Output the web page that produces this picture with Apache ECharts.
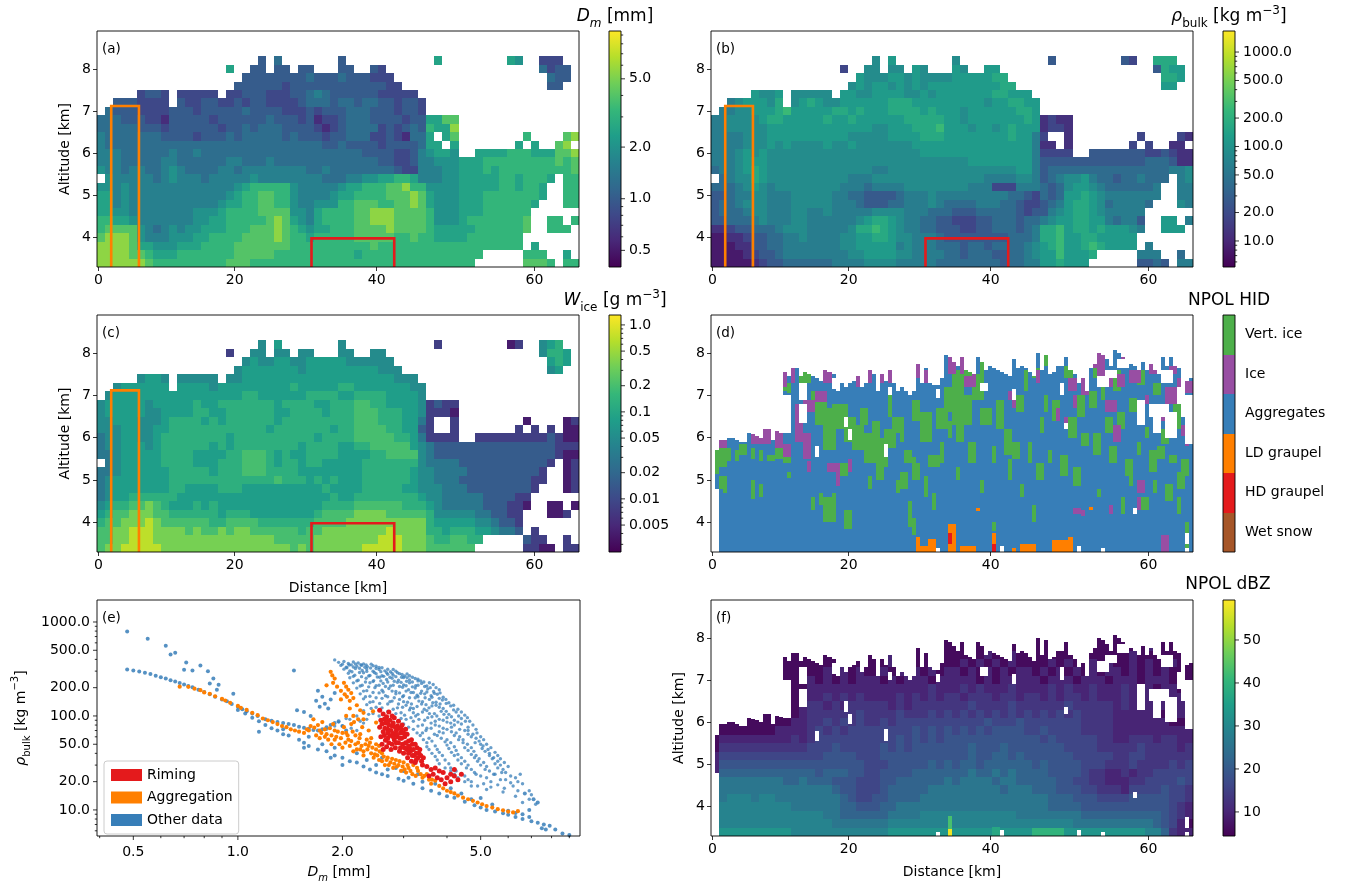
<!DOCTYPE html>
<html>
<head>
<meta charset="utf-8">
<script src="https://cdn.jsdelivr.net/npm/echarts@6/dist/echarts.min.js"></script>
<style>html,body{margin:0;background:#fff}#main{width:1349px;height:884px}</style>
</head>
<body>
<div id="main"></div>
<script>
// radar grid: 60 columns, 28 rows of 0.2 km from 8.9 km down. digit = index in the levels list, . = no data
var dmLevels = [0.6, 0.8, 1.0, 1.25, 1.6, 2.0, 2.5, 3.2, 4.0, 5.5];
var rhoLevels = [8, 12, 18, 27, 40, 60, 85, 120, 170, 260];
var iceLevels = [0.004, 0.008, 0.015, 0.03, 0.05, 0.08, 0.13, 0.2, 0.35, 0.7];
var dbzLevels = [6, 10, 13, 16, 19, 22, 26, 29, 33, 40];

var dmRows = [
'', '', '',
'.......... .......... 2.3....... 2......... ..6....... .65..111..',
'.......... ......6..2 2.22.22... 22..21.... .......... .....3122.',
'.......... ........22 2222223222 3222111... .......... ......322.',
'.......... .......222 2221222222 22222211.. .......... ......22..',
'.....1221. 11111.1122 2111223432 2222211111 .......... ..........',
'..2221111. 2112211212 2111123332 3323322122 1......... ..........',
'.322211112 2212222232 2221112122 2333222122 1......... ..........',
'3332221102 2222122222 2322212011 2333222212 26688..... ..........',
'3333322212 2222212232 3332222101 2333312123 27669..... ..........',
'4333333322 2212223233 3332322212 2333112103 36.68..... ...7....89',
'4333333333 3333333333 3333333322 3222212222 366.6..... ..6.6..89.',
'4443333334 3343333333 3333333333 3332222112 45665..666 6777666889',
'4443333344 3333334433 3433333333 3333322112 4455566677 7777777878',
'5443443345 4333344344 4444443343 3333333211 4445566676 7777777778',
'.544444345 4443444445 4444444433 3445566776 4445566666 7767776.77',
'5545444444 4444444567 7777544444 5667778897 7555566666 776776..77',
'6645444444 4444445677 8877544445 6677778889 8655566677 777776..77',
'6645444444 4444456677 8877544555 7788877889 8655566677 77776...77',
'6655444444 4455567777 8888554677 7788999888 8755566677 7777......',
'7766544444 4455667777 7898654677 7788999888 8755567777 7778..77.7',
'7888854345 4556667778 8898765667 7788889888 8766666777 7778..777.',
'8999854445 5566777788 8898776777 7788888778 7766667777 777.......',
'9999866555 6667777888 8888777777 7777877777 7777777777 777.6.....',
'9999887666 7777777888 8877777777 7767777777 77777777.. ...777..6.',
'9999998777 7777778887 7777777777 7777777777 7777777... ...8887.77'
];
var rhoRows = [
'', '', '',
'.......... .......... 6.7....... 6......... ..3....... .32..888..',
'.......... ......2..6 6.66.76... 76..77.... .......... .....3877.',
'.......... ........76 6677676666 7777788... .......... ......887.',
'.......... .......676 7767676777 77777788.. .......... ......77..',
'.....7667. 66666.7766 7777667677 7777788777 .......... ..........',
'..5677768. 6787667777 7788877777 7777677887 7......... ..........',
'.556677789 7777788787 7788887877 7677777788 7......... ..........',
'5566667887 7777877877 7777888887 7677777778 71211..... ..........',
'5566666777 7777777777 6677788897 7767767877 71221..... ..........',
'5555666777 7777777666 6677778887 7777777877 52..1..... ...2....21',
'5555666767 6666766766 6666677777 7777777777 511.1..... ..2.2..11.',
'5556767666 6666666666 6666667777 7777777777 52222..333 3333223211',
'5556777666 6666666666 6666666666 6677777777 5333333333 3333444311',
'4556787666 6666666666 5566666666 6666666677 5344444444 4444444556',
'.456687666 6666666555 6666666666 6666555566 5345667544 3445444.56',
'4445676566 6666665554 5555666666 6655522255 5434677654 444445..55',
'3345566555 6666655443 3334555655 5555555443 2434778765 555555..55',
'3445666555 6666655543 3344555654 4445554432 2345788764 55554...65',
'3444566555 6655655555 6666555444 3334444432 3356788765 5555......',
'3344456555 6655555567 8876554433 2223344434 4567788775 4553..77.5',
'1123344456 6655555688 9876554433 3223344434 5889788787 7765..777.',
'0011233445 5655556677 8876655543 3333333444 5889778877 777.......',
'0001133445 5555556677 7775655544 4344344445 6789778987 777.5.....',
'0000123345 5555555667 7776655554 4344433445 67797778.. ...555..4.',
'0000012334 4444455556 6665555544 4444443445 5778777... ...3343.55'
];
var iceRows = [
'', '', '',
'.......... .......... 4.5....... 4......... ..1....... .01..456..',
'.......... ......1..4 4.44.44... 44..44.... .......... .....4665.',
'.......... ........45 4455445555 5444444... .......... ......565.',
'.......... .......455 5555545555 55555444.. .......... ......45..',
'.....4554. 44444.4455 5555555555 5555555444 .......... ..........',
'..4555555. 5555455555 5555655555 6655555554 4......... ..........',
'.455555555 5555555566 5555556666 5566665555 4......... ..........',
'4555554555 5565566666 6656666556 6677665555 41211..... ..........',
'4555554455 5566556666 6655666656 6677766655 41110..... ..........',
'4455544456 6665656666 6656666666 6677766655 31..1..... ...0....01',
'4445544556 6666666666 6566666665 6677776655 21..1..... ..1.1.1.00',
'3445544566 6666665666 6666666566 6677777665 31111..111 1111112100',
'3445554566 6666565666 6666656666 5566777775 4322222222 2222222111',
'3345555566 6655556677 7656556666 5555667777 4322222222 2222222100',
'.345555566 6655566677 7656656655 5556666666 4333322222 2222221.01',
'3345555556 6666566677 7666655555 5556666665 4433332222 222221..01',
'3455555556 6666666666 6676665656 5556666665 4433322222 222211..01',
'3455555556 6555566655 5555555565 5556666655 4443332222 22221...01',
'3455666666 5555555555 5555555556 5566666666 5443333322 2211......',
'4566778765 5565655555 5555555566 6677777766 6543333322 2110..00.0',
'5677888776 6666656665 5555555677 7788887777 7644444332 211...001.',
'6778889877 7777667777 6666666777 7888888888 8655555443 221.......',
'7788999888 8787787887 7777767788 8888889888 8665666554 332.1.....',
'7788999888 8888888888 8877777888 8888899988 87667766.. ...211..1.',
'7889999988 8888888888 8888787888 8889999988 8777777... ...1100.11'
];
var dbzRows = [
'', '', '', '',
'0000000000 0000000000 0000000000 0000000000 0000000000 0000000000',
'0000000000 0000000000 0000000000 0000100000 0010000000 0000100000',
'0000000000 0000000000 0010000100 0000100100 0000010000 0010000000',
'0000000000 0000000000 0010100100 0101010100 0010100101 0010100100',
'0000000000 0000101010 0101010101 1010101011 0101010101 1010101000',
'0000000000 0010101011 1010111011 1110101111 1011101110 1110111010',
'0000000000 0011111111 1111111211 1212111211 1121211211 1211101100',
'0000000000 0111212121 1112121212 2122212212 2121221211 1211110110',
'0000000000 0122121222 2212122222 2232222322 2222322222 1211101010',
'0000000000 0122222232 2223222323 2323232323 2323232222 1111110110',
'0000000000 1122323232 2323333333 3333433343 3333332222 1111111000',
'0000000011 1123232333 3333343434 3434344443 3433332222 1111111111',
'0111111111 2123333333 3334343434 4444444444 4343333322 1122212211',
'0222222222 2233343333 3434344444 4454445444 4444333322 2223222212',
'1333333333 3333444433 3444444444 4454455454 4444433333 2233222222',
'1444444444 4444444443 3344444545 4554555555 4544443332 2232222323',
'1555555555 5554555443 3444455555 5565565655 5544443221 1212233333',
'2666666665 5655544433 3445555556 5666656655 5554433221 1122333343',
'3666666666 6666654433 3455555666 6666665666 5554443322 2133334332',
'3677767766 6666665433 4455556666 6666666666 6655544433 3344444332',
'3777777777 6666665544 4556666666 6666666666 6655554444 4444444321',
'3777777777 7777665555 5566667777 7777777766 6666665555 5555554321',
'3777777777 7777766666 6677777777 7777777777 7777766666 6666654310',
'3888888888 7777777777 7788888888 8888888888 9999888888 8888775211'
];
// single bright gates in the dBZ panel: half column from, half column to, km from, km to, dBZ
var dbzSpikes = [[59, 59, 3.3, 3.47, 58], [59, 59, 3.47, 3.78, 43], [70, 71, 3.3, 3.52, 37]];

// NPOL data, 120 half columns: top of echo in km, classes as [col from, col to, km from, km to]
var npolTop = [
3.3,5.7,5.95,5.95,6,6,5.95,5.9,5.9,6.1,6.08,6.05,6,6.2,6.2,5.95,6.15,6.12,7.55,7.45,
7.65,7.65,7.45,7.55,7.5,7.45,7.4,7.35,7.6,7.55,7.5,7.1,7.3,7.2,7.3,7.35,7.45,7.2,7.3,7.6,
7.5,7.1,7.5,7.35,7.6,7.3,7.1,7.2,7.1,7,7.1,7.75,7.3,7.65,7.3,7.25,7.25,7.4,7.95,7.9,
7.8,7.7,7.9,7.6,7.55,7.5,7.9,7.8,7.6,7.7,7.65,7.6,7.55,7.5,7.45,7.85,7.65,7.7,7.65,7.55,
7.45,8,7.6,7.95,7.5,7.55,7.7,7.7,7.9,7.6,7.5,7.3,7.4,7.1,7.65,7.75,8,7.95,7.85,7.7,
8.07,8,7.9,7.7,7.75,7.7,7.6,7.8,7.6,7.75,7.6,7.5,7.9,7.7,7.9,7.7,7.65,6.5,7.35,7.4
];
var vertIce = [[1,1,5.15,5.7],[2,3,5.3,5.85],[4,4,5.45,5.75],[6,6,5.45,5.7],[7,8,5.6,5.85],[10,10,5.5,5.75],[12,12,5.45,5.7],[14,15,5.45,5.6],[16,17,5.5,5.75],[18,19,5.4,5.7],[19,19,7.05,7.3],[18,18,7.1,7.2],
[2,2,4.8,5.1],[3,3,4.7,5.1],[10,10,4.55,5],[12,12,4.6,4.9],[19,19,5.05,5.2],[22,24,7.3,7.6],[25,25,6.9,7.1],[26,28,6.3,6.95],[28,30,5.7,6.7],[30,33,6.2,6.8],[31,33,5.1,5.4],[33,35,5.9,6.5],[35,37,5.7,6.3],[37,38,6.3,6.7],[38,40,5.4,6.1],[40,41,5.6,6.4],[41,42,5,6],[42,43,5.3,5.7],[43,45,5.75,6.2],[45,46,6.1,6.5],[44,44,6.5,7],[47,47,5.9,6.5],[48,49,5.4,5.7],[50,50,5.2,5.55],[50,51,5,5.4],[50,51,6.4,6.9],[52,54,5.9,6.6],[54,56,5.3,5.6],[56,58,6.2,6.7],[57,57,5.4,5.9],[58,60,6.6,7.2],[59,59,6,6.4],[60,62,6.3,7.6],[61,62,5.9,6.5],[61,61,5,5.3],[63,64,6.3,7],[62,64,7.2,7.85],[64,65,5.4,5.9],[65,67,6.9,7.5],[67,69,6.3,6.7],[67,67,7.4,7.8],[70,70,5.4,5.8],[71,72,6.2,6.9],[73,74,5.6,6.2],[74,74,5,5.5],[75,76,5.5,5.9],[76,77,6.6,7],[78,78,7.1,7.6],[77,77,4.6,4.9],[79,79,5.4,5.9],[80,81,7.4,7.65],[81,82,5,5.4],[82,82,6.1,6.5],[83,83,6.6,7],[84,84,5.4,5.7],[82,83,7.7,7.95],[85,86,6.4,6.9],[87,88,5.1,5.6],[88,89,7.4,7.7],[89,90,6,6.5],[90,91,4.85,5.3],[91,92,6.5,7],[92,93,5.8,6.1],[94,95,6.7,7.1],[95,95,7.4,7.65],[95,96,5.6,6.1],[97,97,6.9,7.3],[98,99,6.1,6.5],[99,100,5.4,5.8],[100,101,7.1,7.6],[101,102,6.2,6.6],[102,102,4.2,4.6],[103,104,5.1,5.5],[104,105,6.6,6.95],[106,107,7.25,7.6],[106,106,5.6,5.9],[108,108,6,6.25],[107,108,4.3,4.6],[109,110,5.2,5.7],[110,111,7,7.3],[111,112,5.5,5.8],[112,113,5.85,6.2],[113,114,4.5,4.9],[114,115,5.4,5.6],[115,116,6.2,6.8],[116,117,4.8,5.2],[117,118,5.1,5.5],[118,118,3.3,4],[118,118,6.5,6.9],[116,116,4.2,4.6],[110,110,4.7,5],[104,104,4.85,5.1],[96,96,4.6,4.8],[49,49,3.9,4.5],[46,46,4.7,5],[50,50,3.7,4.1],[39,39,4.8,5.1],[47,48,4.8,5.2],[53,53,4.6,5.1],[55,55,4.3,4.7],[80,80,4,4.4],[67,67,4.7,5],[70,70,3.8,4],
[25,25,4.3,4.6],[27,27,4.4,4.7],[28,30,4,4.6],[30,30,4.25,4.7],[33,34,3.85,4.3]];
var iceClass = [[2,3,5.75,5.95],[10,12,5.85,6.1],[13,14,5.85,6.2],[16,17,5.75,6.15],[18,19,5.55,5.85],[18,18,7.2,7.55],[20,20,7.3,7.65],[21,22,5.9,6.8],[23,24,5.5,6.1],[24,24,6.6,6.8],[26,28,6.85,7.1],[23,25,6.6,6.9],[24,24,5.2,5.45],[28,29,7.3,7.6],[31,31,4.85,5.4],[34,34,5.2,5.5],[29,31,5.2,5.4],[36,36,7.2,7.45],[39,39,7.3,7.6],[44,44,7.3,7.6],[42,42,7.3,7.5],[51,51,7.4,7.75],[53,53,7.3,7.6],[59,60,7.5,7.9],[62,62,7.5,7.9],[65,65,7.2,7.5],[63,64,7.2,7.45],[75,75,6.7,6.95],[74,74,6.9,7.1],[81,81,7.3,7.6],[86,86,6.4,6.7],[90,90,6.7,7],[89,90,7.1,7.4],[88,88,6.3,6.5],[92,93,7,7.4],[95,95,7.65,7.8],[96,97,7.6,8],[96,99,7.2,7.6],[98,100,6.6,6.9],[100,101,5.9,6.3],[101,102,7.2,7.5],[102,103,7.8,8],[104,106,7.3,7.6],[108,108,6.8,7],[109,111,7.5,7.75],[112,113,6.4,6.7],[113,115,6.8,7.2],[114,115,7.5,7.7],[116,117,7.1,7.4],[117,119,7.05,7.35],[117,118,6.05,6.3],[118,118,5.8,6],[106,107,4.7,5],[90,91,4.2,4.35],[92,92,4.15,4.3],[106,106,4.3,4.6],[112,113,3.3,3.7],[99,99,4.2,4.4]];
var ldGraupel = [[51,51,3.3,3.65],[52,52,3.3,3.45],[53,54,3.3,3.45],[54,55,3.3,3.6],[59,60,3.3,3.95],[64,65,3.3,3.45],[70,70,3.3,3.75],[75,75,3.3,3.4],[77,79,3.3,3.5],[79,80,3.3,3.5],[85,89,3.3,3.58],[89,89,3.3,3.65],[66,66,4.28,4.34],[94,94,4.3,4.36],[62,63,3.3,3.43]];
var hdGraupel = [[59,59,3.5,3.75],[70,70,3.3,3.5]];
var npolHoles = [[1,1,3.3,4.8],[18,19,6.1,7],[22,23,6.9,7.3],[22,23,6.35,6.8],[26,26,5.55,5.8],[33,33,6.25,6.5],[34,34,5.95,6.2],[43,43,5.55,5.85],[30,31,7.15,7.4],[44,44,7,7.2],[56,56,6.95,7.15],[67,68,7.1,7.3],[75,75,6.9,7.15],[87,87,7,7.3],[88,88,6.2,6.35],[106,107,6.3,6.9],[109,113,6.5,6.8],[110,111,6.1,6.5],[113,115,6,6.6],[116,117,6.8,7.2],[112,114,7.3,7.6],[101,103,7.65,7.85],[96,98,7.2,7.45],[98,100,7.4,7.6],[118,119,5.85,7],[105,105,4.2,4.35],[118,118,3.5,3.75],[118,118,3.3,3.4],[72,72,3.3,3.45],[97,97,3.3,3.4],[91,91,3.3,3.45],[56,56,3.3,3.4]];

// scatter panel: [Dm mm, rho kg/m3]
var otherLine = [[0.48,312],[0.5,305],[0.52,298],[0.54,288],[0.56,280],[0.58,268],[0.6,258],[0.62,250],[0.64,240],[0.66,232],[0.68,224],[0.7,216],[0.72,208],[0.74,202],[0.77,190],[0.8,180],[0.83,170],[0.86,160],[0.9,150],[0.93,143],[0.96,134],[1,125],[1.03,118],[1.06,112],[1.1,106],[1.14,100],[1.2,92],[1.25,89],[1.3,86],[1.35,84],[1.4,82],[1.45,80],[1.5,77],[1.55,75],[1.6,73],[1.65,71],[1.7,70],[1.75,72],[1.8,76],[1.85,80],[1.9,84],[1.95,88],[2,78],[2.05,70],
[1,116],[1.05,106],[1.1,96],[1.15,88],[1.2,80],[1.25,74],[1.3,70],[1.35,64],[1.4,62],[1.5,56],[1.55,52],[1.6,48],[1.7,44],[1.8,42],[1.9,38],[2,36],[2.1,33],[2.2,32],[2.3,29],[2.4,27],[2.5,25],[2.6,24],[2.7,23],[2.9,21.5],[3,20.5],[3.2,19],[3.4,17],[3.6,16],[3.8,15],[4,14],[4.2,13.5],[4.5,12.2],[4.8,11.2],[5,10.6],[5.2,10],[5.5,9.6],[5.8,9.2],[6,8.9],[6.3,8.4],[6.6,8],[7,7.6],[7.3,7.3],[7.6,7],[6,9.8],[6.3,9.3],[6.6,9],[6.9,8.4],
[1.15,68],[1.35,72],[1.55,46],[1.6,60],[1.75,50],[1.85,36],[1.9,46],[2,30],[2.2,40],[2.35,34],[2.5,30],[2.7,27],[2.6,36],[2.85,28],[3,26],[3.1,22],[3.3,24],[3.4,20],[3.7,19],[4.1,17],[4.4,15],[4.7,13],[5,13.4],[5.4,11.4],
[0.39,1620],[0.48,790],[0.55,665],[0.62,560],[0.66,470],[0.64,450],[0.71,370],[0.78,345],[0.7,310],[0.74,305],[0.82,300],[0.85,250],[0.88,215],[0.83,222],[0.87,190],[0.97,172],[1.45,305],[1.48,115],[1.7,185],[1.75,160],[1.78,135],[1.72,125],[1.55,110],[1.62,100],[1.82,120],[1.85,150],[1.9,175],[1.68,145],
[7.5,6.4],[7.9,6.8],[8.2,6.2],[8.6,5.6],[9,5.4],[7.7,6.2],[6.9,10],[7.1,13],[6.7,15],[7.3,12]];
var otherCloud = [[1.9,395],[1.95,372],[2.02,380],[2.08,362],[2.15,375],[2.22,366],[2.3,358],
[1.98,345],[2.05,330],[2.12,350],[2.2,338],[2.27,345],[2.36,335],[2.45,342],[2.55,328],
[2.02,315],[2.1,302],[2.18,320],[2.28,305],[2.35,316],[2.45,300],[2.55,312],[2.65,302],[2.75,296],[2.85,300],
[2.08,285],[2.17,272],[2.3,288],[2.4,270],[2.5,282],[2.6,268],[2.7,278],[2.8,272],[2.92,282],[3.02,266],[3.12,268],
[2.1,255],[2.22,240],[2.34,252],[2.46,238],[2.56,258],[2.68,244],[2.78,252],[2.9,240],[3,256],[3.12,242],[3.24,250],[3.36,236],
[2.15,225],[2.28,212],[2.4,226],[2.5,210],[2.62,222],[2.75,208],[2.88,228],[3,214],[3.12,226],[3.25,210],[3.38,222],[3.5,208],[3.65,216],
[2.2,198],[2.35,186],[2.48,200],[2.6,188],[2.72,196],[2.85,182],[2.98,202],[3.1,190],[3.24,198],[3.38,184],[3.52,194],[3.66,182],[3.8,190],
[2.25,172],[2.4,162],[2.55,176],[2.7,160],[2.85,172],[3,164],[3.15,178],[3.3,160],[3.45,172],[3.6,164],[3.75,170],[3.9,158],
[2.3,152],[2.45,142],[2.6,154],[2.78,144],[2.92,150],[3.08,140],[3.24,156],[3.4,142],[3.56,150],[3.72,140],[3.88,148],[4.05,138],
[2.35,132],[2.5,124],[2.7,134],[2.88,122],[3.05,130],[3.2,120],[3.38,134],[3.55,122],[3.72,130],[3.9,120],[4.1,128],[4.3,118],
[2.3,114],[2.45,106],[2.7,112],[2.95,108],[3.12,116],[3.3,104],[3.5,114],[3.68,106],[3.85,112],[4.05,104],[4.25,110],[4.5,102],
[2.2,100],[2.35,92],[2.8,98],[3.05,92],[3.25,100],[3.45,90],[3.62,98],[3.8,92],[4,96],[4.2,90],[4.4,94],[4.65,88],
[1.95,86],[2.1,92],[2.3,84],[3,82],[3.2,88],[3.4,80],[3.6,84],[3.8,78],[4,86],[4.2,80],[4.4,82],[4.6,76],[4.85,72],
[1.8,72],[2,78],[2.2,70],[3.2,72],[3.4,66],[3.6,74],[3.8,68],[4,72],[4.25,66],[4.5,70],[4.75,64],[5,60],
[3.35,62],[3.55,58],[3.75,62],[4,56],[4.2,62],[4.45,56],[4.7,60],[4.95,54],[5.2,50],
[3.5,52],[3.7,48],[3.95,53],[4.2,47],[4.45,52],[4.7,46],[5,50],[5.25,44],[5.5,41],
[3.55,44],[3.8,41],[4.05,45],[4.3,39],[4.6,43],[4.85,38],[5.15,42],[5.45,36],[5.7,35],
[3.7,37],[3.95,34],[4.2,38],[4.5,33],[4.8,36],[5.1,32],[5.4,35],[5.7,30],[6,29],
[3.8,31],[4.1,28],[4.4,31],[4.7,27],[5,30],[5.3,26],[5.6,28],[5.9,25],
[4.1,26],[4.5,23],[4.8,25],[5.2,22],[5.5,24],[5.9,21],[6.3,22],[6.5,24],
[4.3,22],[4.7,20],[5.1,19],[5.6,18.5],[6.2,18],[6.6,19],[6.9,16],
[4.7,18],[5.2,16.5],[5.8,15.5],[6.3,14],[6.9,13],[7.2,11.5],[6.6,12],[7,14.5]];
var otherCloudFill = [[2,356],[2.09,348],[2.18,358],[2.26,352],[2.34,350],[2.42,356],[2.5,338],
[2.06,326],[2.15,332],[2.24,322],[2.32,330],[2.41,324],[2.5,320],[2.6,326],[2.7,314],[2.8,312],
[2.13,295],[2.24,290],[2.35,298],[2.47,290],[2.58,296],[2.68,288],[2.78,284],[2.88,288],[2.97,276],[3.07,280],
[2.15,264],[2.27,262],[2.38,266],[2.52,260],[2.63,264],[2.74,258],[2.85,262],[2.96,258],[3.07,256],[3.18,258],[3.3,246],
[2.2,236],[2.33,230],[2.45,232],[2.58,236],[2.7,230],[2.82,234],[2.95,228],[3.06,234],[3.18,230],[3.3,236],[3.43,230],[3.56,226],
[2.25,208],[2.38,204],[2.55,212],[2.66,206],[2.8,212],[2.92,206],[3.05,210],[3.18,204],[3.3,212],[3.45,206],[3.58,200],[3.72,200],
[2.3,184],[2.45,178],[2.62,180],[2.78,184],[2.92,176],[3.05,184],[3.2,178],[3.36,174],[3.5,180],[3.68,174],[3.82,176],
[2.33,160],[2.5,156],[2.66,164],[2.82,156],[2.98,160],[3.12,156],[3.28,166],[3.46,156],[3.62,158],[3.8,154],[3.97,150],
[2.4,140],[2.56,136],[2.74,142],[2.9,134],[3,142],[3.16,134],[3.32,144],[3.48,132],[3.64,138],[3.82,134],[3.98,136],[4.18,130],
[2.42,120],[2.6,122],[2.8,118],[2.98,124],[3.14,122],[3.28,126],[3.44,118],[3.62,128],[3.8,124],[3.98,112],[4.18,116],[4.4,110],
[2.38,104],[2.55,100],[2.85,106],[3.02,102],[3.2,108],[3.4,110],[3.56,106],[3.74,100],[3.92,104],[4.12,98],[4.32,100],[4.58,96],
[2.05,94],[2.25,88],[2.95,94],[3.15,96],[3.32,92],[3.52,96],[3.7,88],[3.9,90],[4.1,84],[4.3,86],[4.52,88],[4.75,80],
[1.9,78],[2.12,74],[3.1,76],[3.3,78],[3.5,74],[3.7,80],[3.9,74],[4.12,76],[4.35,72],[4.6,70],[4.88,66],
[3.28,66],[3.48,70],[3.68,64],[3.9,66],[4.12,68],[4.35,60],[4.6,64],[4.85,58],[5.1,56],
[3.42,56],[3.62,54],[3.85,58],[4.1,52],[4.32,56],[4.58,50],[4.82,52],[5.08,48],[5.35,46],
[3.5,47],[3.75,44],[4,49],[4.25,43],[4.5,46],[4.78,42],[5.05,45],[5.3,40],[5.6,38],
[3.62,40],[3.88,38],[4.12,41],[4.4,36],[4.7,39],[4.95,35],[5.3,38],[5.6,33],[5.85,32],
[3.75,34],[4.05,31],[4.3,34],[4.6,30],[4.9,33],[5.2,29],[5.5,31],[5.8,27],
[3.95,28],[4.25,26],[4.55,28],[4.85,24],[5.15,27],[5.45,24],[5.75,25],[6.1,23],
[4.2,24],[4.6,21],[5,23],[5.35,20],[5.7,21],[6.1,19.5],[6.4,20],
[4.5,20],[4.9,18],[5.35,17.5],[5.85,17],[6.4,16]];
var aggregation = [[0.68,205],[0.72,204],[0.75,195],[0.78,188],[0.8,178],[0.83,172],[0.86,162],[0.9,152],[0.92,146],[0.95,138],[1,128],[1.02,122],[1.06,116],[1.1,108],[1.14,102],[1.18,94],[1.22,90],[1.26,86],[1.3,82],[1.34,78],[1.38,76],[1.42,72],[1.46,70],[1.5,68],[1.55,66],[1.6,70],[1.65,92],[1.66,75],[1.68,62],[1.72,58],[1.75,86],[1.78,72],[1.8,64],[1.82,56],[1.86,50],[1.88,82],[1.9,70],[1.92,60],[1.96,50],[2,46],[2.02,76],[2.05,66],[2.08,56],[2.1,48],[2.15,42],[2.18,62],[2.22,52],[2.25,44],[2.3,38],[2.35,56],[2.38,48],[2.42,40],[2.46,36],[2.5,44],[2.55,34],[2.6,40],[2.65,30],[2.7,36],[2.75,32],[2.8,28],[2.85,34],[2.9,30],[2.95,26],[3,32],[3.05,25],[3.1,28],[3.2,30],[3.25,23],[3.3,26],[3.4,22],[3.5,24],[3.55,21],[3.6,19],[3.7,20.5],[3.8,18],[3.9,17],[4,16],[4.1,15.5],[4.2,15],[4.3,14.2],[4.45,13.5],[4.6,13],[4.75,12.5],[4.9,12],[5.05,11.5],[5.2,11],[5.4,10.6],[5.6,10.2],[5.8,9.9],[6,9.6],[6.2,9.4],[6.4,9.7],
[1.85,295],[1.87,270],[1.9,250],[1.8,212],[1.88,225],[1.93,205],[1.98,185],[2.02,225],[2.05,205],[2.08,190],[2.03,170],[1.98,150],[2.06,160],[2.12,175],[2.1,145],[2.15,155],[2.2,130],[2.25,115],[2.1,120],[2.15,100],[2.22,92],[2.05,100],[2.3,108],[2.12,82],[2.28,76],[2.38,70],[2.45,112],[2.5,85],
[1.62,78],[1.7,80],[1.74,66],[1.78,60],[1.84,74],[1.86,62],[1.94,68],[1.98,58],[2,66],[2.04,52],[2.07,62],[2.12,54],[2.14,68],[2.18,50],[2.2,44],[2.24,58],[2.27,48],[2.3,42],[2.33,50],[2.36,44],[2.4,52],[2.44,46],[2.48,39],[2.52,38],[2.56,42],[2.6,33],[2.63,37],[2.68,34],[2.72,30],[2.78,35],[2.82,31],[2.87,29],[2.92,33],[2.98,29],[3.02,27],[3.08,30],[3.14,26],[3.18,24],[3.28,28],[3.36,24],[3.44,23],[3.62,21],[1.72,70],[1.9,56],[2.25,64],[2.42,58],[2.5,50],[1.58,72],[2.55,48],[2.16,86],[2.3,92]];
var riming = [[2.56,115],[2.62,105],[2.68,98],[2.72,110],[2.58,90],[2.66,84],[2.74,90],[2.82,96],[2.9,88],[2.97,80],[3.04,72],[2.56,76],[2.62,68],[2.7,72],[2.78,78],[2.86,70],[2.94,66],[3.02,60],[3.1,54],[3.18,50],[2.58,60],[2.66,55],[2.74,62],[2.82,56],[2.9,52],[2.98,50],[3.06,44],[3.14,42],[3.22,38],[3.3,36],[2.6,50],[2.68,47],[2.76,44],[2.84,46],[2.92,42],[3,40],[3.08,36],[3.16,33],[3.24,32],[3.32,40],[3.38,33],[2.72,52],[2.8,65],[2.88,60],[2.96,58],[3.04,52],[3.12,46],[3.2,44],[3.28,46],[3.36,38],[2.64,62],[2.72,80],[2.8,84],[2.88,78],[2.96,72],
[2.6,82],[2.65,74],[2.7,66],[2.76,70],[2.84,76],[2.92,74],[2.8,60],[2.86,64],[2.93,58],[3,66],[3.07,64],[3.1,48],[3.16,56],[3.24,50],[2.62,44],[2.7,58],[2.78,50],[2.86,52],[2.94,46],[3.02,46],[3.1,40],[3.18,38],[3.26,40],[3.34,44],[2.64,92],[2.7,88],[2.78,100],[3.26,34],[3.42,36],
[3.4,30],[3.5,29],[3.6,27],[3.7,28],[3.8,26],[3.9,25],[4,22],[4.1,24],[4.2,27],[4.3,21],[4.4,24],[3.55,23],[3.65,24],[3.75,22],[3.85,21],[3.95,19],[4.1,20],[4.2,23]];

// tick marks and labels
var distTickAt = [0.19, 17.14, 34.82, 54.46];
var distLabels = ['0', '20', '40', '60'];
var altTicks = [4, 5, 6, 7, 8];
var dmTicks = [0.5, 1, 2, 5];
var dmTickLabels = ['0.5', '1.0', '2.0', '5.0'];
var dmMinor = [0.4, 0.6, 0.7, 0.8, 0.9, 3, 4, 6, 7, 8, 9];
var rhoTicks = [10, 20, 50, 100, 200, 500, 1000];
var rhoTickLabels = ['10.0', '20.0', '50.0', '100.0', '200.0', '500.0', '1000.0'];
var rhoMinor = [6, 7, 8, 9, 30, 40, 60, 70, 80, 90, 300, 400, 600, 700, 800, 900];
var iceTicks = [0.005, 0.01, 0.02, 0.05, 0.1, 0.2, 0.5, 1];
var iceTickLabels = ['0.005', '0.01', '0.02', '0.05', '0.1', '0.2', '0.5', '1.0'];
var iceMinor = [0.003, 0.004, 0.006, 0.007, 0.008, 0.009, 0.03, 0.04, 0.06, 0.07, 0.08, 0.09, 0.3, 0.4, 0.6, 0.7, 0.8, 0.9];
var dbzTicks = [10, 20, 30, 40, 50];
var hidLabels = ['Wet snow', 'HD graupel', 'LD graupel', 'Aggregates', 'Ice', 'Vert. ice'];
var hidColors = ['#a65628', '#e41a1c', '#ff7f00', '#377eb8', '#984ea3', '#4daf4a'];

var FONT = 'DejaVu Sans';
var TICK_SIZE = 14;
var viridis = ['#440154', '#482878', '#3e4989', '#31688e', '#26828e', '#1f9e89', '#35b779', '#6ece58', '#b5de2b', '#fde725'];
var series = [], xAxes = [], yAxes = [], grids = [];

function hex(c) {
    return [parseInt(c.substr(1, 2), 16), parseInt(c.substr(3, 2), 16), parseInt(c.substr(5, 2), 16)];
}
function cmap(t) {
    t = Math.max(0, Math.min(1, t)) * 9;
    var i = Math.min(8, Math.floor(t)), f = t - i, a = hex(viridis[i]), b = hex(viridis[i + 1]);
    return 'rgb(' + [0, 1, 2].map(function (k) { return Math.round(a[k] + (b[k] - a[k]) * f); }).join(',') + ')';
}
function logNorm(lo, hi) {
    return function (v) { return Math.log(v / lo) / Math.log(hi / lo); };
}
function linNorm(lo, hi) {
    return function (v) { return (v - lo) / (hi - lo); };
}

function addPanel(box, xa, ya) {
    var i = grids.length;
    grids.push({left: box[0], top: box[1], width: box[2], height: box[3], show: false});
    xa.gridIndex = i; ya.gridIndex = i;
    xAxes.push(xa); yAxes.push(ya);
    return i;
}
function hiddenAxis(type, min, max) {
    return {type: type, min: min, max: max, show: false, splitLine: {show: false}};
}
function radarX(named) {
    return {type: 'value', min: 0, max: 60, splitLine: {show: false}, axisLine: {show: false},
        axisTick: {show: true, customValues: distTickAt, length: 4, lineStyle: {color: '#000', width: 0.8}},
        axisLabel: {show: true, customValues: distTickAt, color: '#000', fontFamily: FONT, fontSize: TICK_SIZE, margin: 6,
            formatter: function (v) { return distLabels[distTickAt.indexOf(v)]; }},
        name: named ? 'Distance [km]' : '', nameLocation: 'middle', nameGap: 29,
        nameTextStyle: {color: '#000', fontFamily: FONT, fontSize: 14}};
}
function radarY(named) {
    return {type: 'value', min: 3.3, max: 8.9, splitLine: {show: false}, axisLine: {show: false},
        axisTick: {show: true, customValues: altTicks, length: 4, lineStyle: {color: '#000', width: 0.8}},
        axisLabel: {show: true, customValues: altTicks, color: '#000', fontFamily: FONT, fontSize: TICK_SIZE, margin: 6},
        name: named ? 'Altitude [km]' : '', nameLocation: 'middle', nameGap: 25,
        nameTextStyle: {color: '#000', fontFamily: FONT, fontSize: 14}};
}
function onGrid(i, o) {
    o.type = 'custom'; o.xAxisIndex = i; o.yAxisIndex = i; o.coordinateSystem = 'cartesian2d';
    o.silent = true; o.animation = false;
    return o;
}
// cells are [x0, x1, y0, y1, colour value]; edges snap to whole pixels so no seams show
function cellSeries(i, cells, colourOf, z) {
    return onGrid(i, {z: z || 2, clip: true, data: cells, renderItem: function (p, api) {
        var a = api.coord([api.value(0), api.value(3)]), b = api.coord([api.value(1), api.value(2)]);
        var x = Math.round(a[0]), y = Math.round(a[1]);
        return {type: 'rect', shape: {x: x, y: y, width: Math.max(1, Math.round(b[0]) - x), height: Math.max(1, Math.round(b[1]) - y)},
            style: {fill: colourOf(api.value(4))}};
    }});
}
function frameSeries(i, x0, x1, y0, y1) {
    return onGrid(i, {z: 20, data: [[x0, y0]], renderItem: function (p, api) {
        var a = api.coord([x0, y1]), b = api.coord([x1, y0]);
        return {type: 'rect', shape: {x: a[0], y: a[1], width: b[0] - a[0], height: b[1] - a[1]},
            style: {fill: 'none', stroke: '#000', lineWidth: 0.9}};
    }});
}
function boxSeries(i, x0, x1, y1, colour) {
    return onGrid(i, {z: 10, data: [[x0, y1]], renderItem: function (p, api) {
        return {type: 'polyline', shape: {points: [api.coord([x0, 3.3]), api.coord([x0, y1]), api.coord([x1, y1]), api.coord([x1, 3.3])]},
            style: {fill: 'none', stroke: colour, lineWidth: 2.6}};
    }});
}
// log axes get their ticks here, the stock axis only labels whole decades
function tickSeries(i, side, at, labels, anchor, len) {
    return onGrid(i, {z: 21, data: at.map(function (v) { return [v, v]; }), renderItem: function (p, api) {
        var v = at[p.dataIndex], kids;
        var q = side === 'bottom' ? api.coord([v, anchor]) : api.coord([anchor, v]);
        var end = side === 'bottom' ? [q[0], q[1] + len] : side === 'left' ? [q[0] - len, q[1]] : [q[0] + len, q[1]];
        kids = [{type: 'line', shape: {x1: q[0], y1: q[1], x2: end[0], y2: end[1]}, style: {stroke: '#000', lineWidth: 0.8}}];
        if (labels) {
            kids.push({type: 'text', style: {
                text: labels[p.dataIndex], fill: '#000', font: TICK_SIZE + 'px "' + FONT + '"',
                x: side === 'bottom' ? end[0] : side === 'left' ? end[0] - 3 : end[0] + 4,
                y: side === 'bottom' ? end[1] + 12 : end[1],
                align: side === 'bottom' ? 'center' : side === 'left' ? 'right' : 'left', verticalAlign: 'middle'}});
        }
        return {type: 'group', children: kids};
    }});
}
function colorbar(box, type, lo, hi, major, labels, minor) {
    var i = addPanel(box, hiddenAxis('value', 0, 1), hiddenAxis(type, lo, hi));
    var stops = viridis.map(function (c, k) { return {offset: k / 9, color: c}; });
    series.push(onGrid(i, {z: 3, data: [[0, lo]], renderItem: function (p, api) {
        var a = api.coord([0, hi]), b = api.coord([1, lo]);
        return {type: 'rect', shape: {x: a[0], y: a[1], width: b[0] - a[0], height: b[1] - a[1]},
            style: {fill: new echarts.graphic.LinearGradient(0, 1, 0, 0, stops)}};
    }}));
    series.push(frameSeries(i, 0, 1, lo, hi));
    series.push(tickSeries(i, 'right', major, labels, 1, 4));
    if (minor) series.push(tickSeries(i, 'right', minor.filter(function (v) { return v > lo && v < hi; }), null, 1, 2.2));
}
function gridCells(rows, levels) {
    var cells = [];
    rows.forEach(function (row, r) {
        var s = row.replace(/ /g, ''), top = 8.9 - 0.2 * r;
        for (var c = 0; c < s.length; c++) {
            if (s[c] !== '.') cells.push([c, c + 1, top - 0.2, top, levels[+s[c]]]);
        }
    });
    return cells;
}
// half columns of the NPOL grid sit at 0.5 column steps
function npolCells(list, value) {
    var out = [];
    list.forEach(function (seg) {
        for (var k = seg[0]; k <= seg[1]; k++) {
            var top = Math.min(seg[3], npolTop[k]);
            if (top > seg[2]) out.push([k / 2, (k + 1) / 2, seg[2], top, value === undefined ? seg[4] : value]);
        }
    });
    return out;
}
function radarPanel(box, rows, levels, lo, hi, named, distance) {
    var i = addPanel(box, radarX(distance), radarY(named));
    var norm = logNorm(lo, hi);
    series.push(cellSeries(i, gridCells(rows, levels), function (v) { return cmap(norm(v)); }));
    series.push(boxSeries(i, 1.77, 5.22, 7.12, '#ff7f00'));
    series.push(boxSeries(i, 26.7, 37, 3.98, '#e41a1c'));
    series.push(frameSeries(i, 0, 60, 3.3, 8.9));
}

// panels a, b, c
radarPanel([97, 31, 482, 236], dmRows, dmLevels, 0.4, 9.5, true, false);
colorbar([609, 31, 12, 236], 'log', 0.4, 9.5, dmTicks, dmTickLabels, dmMinor);
radarPanel([711, 31, 482, 236], rhoRows, rhoLevels, 5.3, 1670, false, false);
colorbar([1223, 31, 12, 236], 'log', 5.3, 1670, rhoTicks, rhoTickLabels, rhoMinor);
radarPanel([97, 315, 482, 237], iceRows, iceLevels, 0.00245, 1.3, true, true);
colorbar([609, 315, 12, 237], 'log', 0.00245, 1.3, iceTicks, iceTickLabels, iceMinor);

// panel d, hydrometeor classes
var dIdx = addPanel([711, 315, 482, 237], radarX(false), radarY(false));
var hidCells = [];
npolTop.forEach(function (t, k) { if (t > 3.3) hidCells.push([k / 2, (k + 1) / 2, 3.3, t, 3]); });
hidCells = hidCells.concat(npolCells(vertIce, 5), npolCells(iceClass, 4), npolCells(ldGraupel, 2), npolCells(hdGraupel, 1), npolCells(npolHoles, 6));
series.push(cellSeries(dIdx, hidCells, function (v) { return v === 6 ? '#fff' : hidColors[v]; }));
series.push(frameSeries(dIdx, 0, 60, 3.3, 8.9));
var hidBar = addPanel([1223, 315, 12, 237], hiddenAxis('value', 0, 1), hiddenAxis('value', 0, 6));
series.push(cellSeries(hidBar, hidColors.map(function (c, k) { return [0, 1, k, k + 1, k]; }), function (v) { return hidColors[v]; }));
series.push(frameSeries(hidBar, 0, 1, 0, 6));
series.push(onGrid(hidBar, {z: 21, data: hidLabels.map(function (t, k) { return [1, k + 0.5]; }), renderItem: function (p, api) {
    var q = api.coord([1, api.value(1)]);
    return {type: 'text', style: {text: hidLabels[p.dataIndex], x: q[0] + 10, y: q[1], fill: '#000', font: TICK_SIZE + 'px "' + FONT + '"', verticalAlign: 'middle'}};
}}));

// panel f, reflectivity
var fIdx = addPanel([711, 600, 482, 236], radarX(true), radarY(true));
var fNorm = linNorm(4.4, 59.3), fCells = [], HOLE = -1;
dbzRows.forEach(function (row, r) {
    var s = row.replace(/ /g, ''), top = 8.9 - 0.2 * r;
    for (var c = 0; c < s.length; c++) {
        fCells = fCells.concat(npolCells([[c * 2, c * 2 + 1, top - 0.2, top, dbzLevels[+s[c]]]]));
    }
});
fCells = fCells.concat(npolCells(dbzSpikes), npolCells(npolHoles, HOLE));
series.push(cellSeries(fIdx, fCells, function (v) { return v === HOLE ? '#fff' : cmap(fNorm(v)); }));
series.push(frameSeries(fIdx, 0, 60, 3.3, 8.9));
colorbar([1223, 600, 12, 236], 'value', 4.4, 59.3, dbzTicks, dbzTicks.map(String));

// panel e, scatter
var eIdx = addPanel([97, 600, 483, 236],
    {type: 'log', min: 0.393, max: 9.66, logBase: 10, show: false, splitLine: {show: false}},
    {type: 'log', min: 5.28, max: 1714, logBase: 10, show: false, splitLine: {show: false}});
function dots(name, data, colour, size, opacity, z) {
    return {type: 'scatter', name: name, xAxisIndex: eIdx, yAxisIndex: eIdx, data: data, symbolSize: size, z: z, silent: true, animation: false,
        itemStyle: {color: colour, opacity: opacity}};
}
series.push(dots('Other data', otherCloud, '#377eb8', 3.4, 0.75, 3));
series.push(dots('Other data', otherCloudFill, '#377eb8', 3.4, 0.75, 3));
series.push(dots('Other data', otherLine, '#377eb8', 4, 0.85, 3));
series.push(dots('Aggregation', aggregation, '#ff7f00', 4.2, 1, 4));
series.push(dots('Riming', riming, '#e41a1c', 5, 1, 5));
series.push(frameSeries(eIdx, 0.393, 9.66, 5.28, 1714));
series.push(tickSeries(eIdx, 'bottom', dmTicks, dmTickLabels, 5.28, 4));
series.push(tickSeries(eIdx, 'bottom', dmMinor, null, 5.28, 2.2));
series.push(tickSeries(eIdx, 'left', rhoTicks, rhoTickLabels, 0.393, 4));
series.push(tickSeries(eIdx, 'left', rhoMinor, null, 0.393, 2.2));

// titles and panel tags
function mathText(x, y, text, size, rotate) {
    var sub = Math.round(size * 0.7);
    return {type: 'text', x: x, y: y, rotation: rotate || 0, z: 50, silent: true, style: {
        text: text, fill: '#000', align: 'center', verticalAlign: 'middle', font: size + 'px "' + FONT + '"',
        rich: {
            n: {fontFamily: FONT, fontSize: size, lineHeight: size + 8},
            i: {fontFamily: FONT, fontSize: size, fontStyle: 'italic', lineHeight: size + 8},
            s: {fontFamily: FONT, fontSize: sub, verticalAlign: 'bottom', lineHeight: size + 8},
            si: {fontFamily: FONT, fontSize: sub, fontStyle: 'italic', verticalAlign: 'bottom', lineHeight: size + 8},
            u: {fontFamily: FONT, fontSize: sub, verticalAlign: 'top', lineHeight: size + 8}
        }}};
}
function tag(x, y, t) {
    return {type: 'text', x: x, y: y, z: 50, silent: true, style: {text: t, fill: '#000', font: '13.5px "' + FONT + '"', verticalAlign: 'middle'}};
}
var graphics = [
    mathText(615, 17, '{i|D}{si|m}{n| [mm]}', 17),
    mathText(1229, 17, '{i|ρ}{s|bulk}{n| [kg m}{u|−3}{n|]}', 17),
    mathText(615, 301, '{i|W}{s|ice}{n| [g m}{u|−3}{n|]}', 17),
    mathText(1229, 301, '{n|NPOL HID}', 17),
    mathText(1228, 585, '{n|NPOL dBZ}', 17),
    mathText(339, 872, '{i|D}{si|m}{n| [mm]}', 14),
    mathText(21, 718, '{i|ρ}{s|bulk}{n| [kg m}{u|−3}{n|]}', 14, Math.PI / 2),
    tag(102, 49, '(a)'), tag(716, 49, '(b)'), tag(102, 333, '(c)'), tag(716, 333, '(d)'), tag(102, 618, '(e)'), tag(716, 618, '(f)')
];

var chart = echarts.init(document.getElementById('main'), null, {renderer: 'canvas'});
chart.setOption({
    animation: false,
    backgroundColor: '#fff',
    textStyle: {fontFamily: FONT},
    grid: grids, xAxis: xAxes, yAxis: yAxes, series: series, graphic: graphics,
    legend: {
        orient: 'vertical', left: 104, top: 761, padding: [7, 6, 7, 7], itemWidth: 31, itemHeight: 12, itemGap: 8.5,
        backgroundColor: '#fff', borderColor: '#ccc', borderWidth: 1, borderRadius: 3, z: 30, selectedMode: false,
        textStyle: {color: '#000', fontFamily: FONT, fontSize: 14},
        data: [
            {name: 'Riming', icon: 'rect', itemStyle: {color: '#e41a1c', opacity: 1}},
            {name: 'Aggregation', icon: 'rect', itemStyle: {color: '#ff7f00', opacity: 1}},
            {name: 'Other data', icon: 'rect', itemStyle: {color: '#377eb8', opacity: 1}}
        ]
    }
});
</script>
</body>
</html>
